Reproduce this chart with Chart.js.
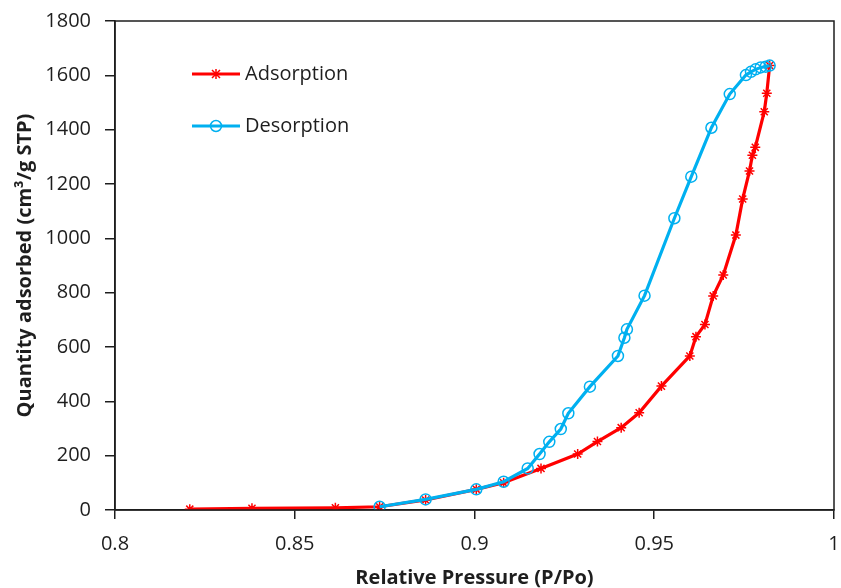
<!DOCTYPE html>
<html>
<head>
<meta charset="utf-8">
<script src="https://cdn.jsdelivr.net/npm/chart.js@4.4.1/dist/chart.umd.min.js"></script>
<style>
  body { margin: 0; background: #fff; }
  #wrap { width: 841px; height: 588px; }
</style>
</head>
<body>
<div id="wrap"><canvas id="isotherm" width="841" height="588"></canvas></div>
<script>
// adsorption branch (P/Po, cm3/g STP)
var adsPressure = [0.8208, 0.8381, 0.8613, 0.8736, 0.8864, 0.9005, 0.9081, 0.9185, 0.9287, 0.9342,
                   0.9408, 0.9458, 0.9520, 0.9599, 0.9616, 0.9641, 0.9664, 0.9692, 0.9727, 0.9746,
                   0.9765, 0.9773, 0.9781, 0.9806, 0.9813, 0.9821];
var adsQuantity = [3, 6, 8, 12, 37, 76, 100, 153, 206, 252,
                   303, 358, 456, 567, 638, 683, 788, 865, 1012, 1145,
                   1248, 1306, 1335, 1466, 1534, 1636];

// desorption branch, high to low pressure
var desPressure = [0.9821, 0.9810, 0.9796, 0.9782, 0.9769, 0.9755, 0.9710, 0.9659, 0.9603, 0.9556,
                   0.9473, 0.9424, 0.9417, 0.9399, 0.9321, 0.9261, 0.9240, 0.9208, 0.9181, 0.9148,
                   0.9081, 0.9005, 0.8864, 0.8736];
var desQuantity = [1636, 1632, 1629, 1622, 1613, 1601, 1531, 1407, 1227, 1074,
                   789, 665, 634, 567, 454, 356, 298, 251, 206, 153,
                   104, 76, 39, 12];

var seriesNames = ["Adsorption", "Desorption"];
var xTicks = [0.8, 0.85, 0.9, 0.95, 1];
var yTicks = [0, 200, 400, 600, 800, 1000, 1200, 1400, 1600, 1800];

function toPoints(xs, ys) {
  return xs.map(function(x, i) { return { x: x, y: ys[i] }; });
}

var RED = "#FF0000";
var BLUE = "#00B0F0";
var INK = "#1e1e1e";
var FONT = "'Open Sans', 'DejaVu Sans', sans-serif";

// frame round the plot + legend inside the plot area
var framePlugin = {
  id: "frame",
  afterDraw: function(chart) {
    var ctx = chart.ctx, a = chart.chartArea;
    ctx.save();
    ctx.strokeStyle = INK;
    ctx.lineWidth = 1.5;
    ctx.strokeRect(a.left, a.top, a.right - a.left, a.bottom - a.top);

    var rows = [
      { name: seriesNames[0], color: RED, y: 74, mark: "star" },
      { name: seriesNames[1], color: BLUE, y: 126, mark: "circle" }
    ];
    rows.forEach(function(r) {
      ctx.strokeStyle = r.color;
      ctx.lineWidth = 3;
      ctx.beginPath();
      ctx.moveTo(192, r.y);
      ctx.lineTo(240, r.y);
      ctx.stroke();
      ctx.lineWidth = 1.5;
      ctx.beginPath();
      if (r.mark === "star") {
        ctx.moveTo(216 - 4, r.y - 4); ctx.lineTo(216 + 4, r.y + 4);
        ctx.moveTo(216 - 4, r.y + 4); ctx.lineTo(216 + 4, r.y - 4);
        ctx.moveTo(216, r.y - 5); ctx.lineTo(216, r.y + 5);
      } else {
        ctx.arc(216, r.y, 5.5, 0, Math.PI * 2);
      }
      ctx.stroke();
      ctx.fillStyle = INK;
      ctx.font = "20px " + FONT;
      ctx.textBaseline = "middle";
      ctx.textAlign = "left";
      ctx.fillText(r.name, 245, r.y);
    });
    ctx.restore();
  }
};

new Chart(document.getElementById("isotherm"), {
  type: "scatter",
  data: {
    datasets: [
      {
        label: seriesNames[0],
        data: toPoints(adsPressure, adsQuantity),
        showLine: true,
        borderColor: RED,
        backgroundColor: RED,
        borderWidth: 3.2,
        pointStyle: "star",
        pointRadius: 5,
        pointBorderWidth: 1.5,
        pointBorderColor: RED,
        order: 2
      },
      {
        label: seriesNames[1],
        data: toPoints(desPressure, desQuantity),
        showLine: true,
        borderColor: BLUE,
        backgroundColor: "rgba(0,0,0,0)",
        borderWidth: 3.2,
        pointStyle: "circle",
        pointRadius: 5.5,
        pointBorderWidth: 1.5,
        pointBorderColor: BLUE,
        pointBackgroundColor: "rgba(0,0,0,0)",
        order: 1
      }
    ]
  },
  options: {
    responsive: false,
    animation: false,
    layout: { padding: { left: 0, right: 4, top: 21, bottom: 0 } },
    plugins: {
      legend: { display: false },
      tooltip: { enabled: false }
    },
    scales: {
      x: {
        type: "linear",
        min: xTicks[0],
        max: xTicks[xTicks.length - 1],
        afterBuildTicks: function(scale) {
          scale.ticks = xTicks.map(function(v) { return { value: v }; });
        },
        afterFit: function(scale) {
          scale.height = 78;
          scale.paddingLeft = 0;
          scale.paddingRight = 0;
        },
        grid: { drawOnChartArea: false, tickLength: 9, color: INK, lineWidth: 1.5 },
        border: { color: INK, width: 1.5 },
        ticks: {
          color: INK,
          font: { family: FONT, size: 20 },
          padding: 13,
          maxRotation: 0,
          callback: function(v) { return String(Number(v.toFixed(2))); }
        },
        title: {
          display: true,
          text: "Relative Pressure (P/Po)",
          color: INK,
          font: { family: FONT, size: 20, weight: "bold", lineHeight: 1 },
          padding: { top: 0, bottom: 0 }
        }
      },
      y: {
        type: "linear",
        min: yTicks[0],
        max: yTicks[yTicks.length - 1],
        afterBuildTicks: function(scale) {
          scale.ticks = yTicks.map(function(v) { return { value: v }; });
        },
        afterFit: function(scale) {
          scale.width = 115;
          scale.paddingTop = 0;
          scale.paddingBottom = 0;
        },
        grid: { drawOnChartArea: false, tickLength: 10, color: INK, lineWidth: 1.5 },
        border: { color: INK, width: 1.5 },
        ticks: {
          color: INK,
          font: { family: FONT, size: 20 },
          padding: 14,
          callback: function(v) { return String(v); }
        },
        title: {
          display: true,
          text: "Quantity adsorbed (cm³/g STP)",
          color: INK,
          font: { family: FONT, size: 20, weight: "bold", lineHeight: 1 },
          padding: { top: 15, bottom: 0 }
        }
      }
    }
  },
  plugins: [framePlugin]
});
</script>
</body>
</html>
